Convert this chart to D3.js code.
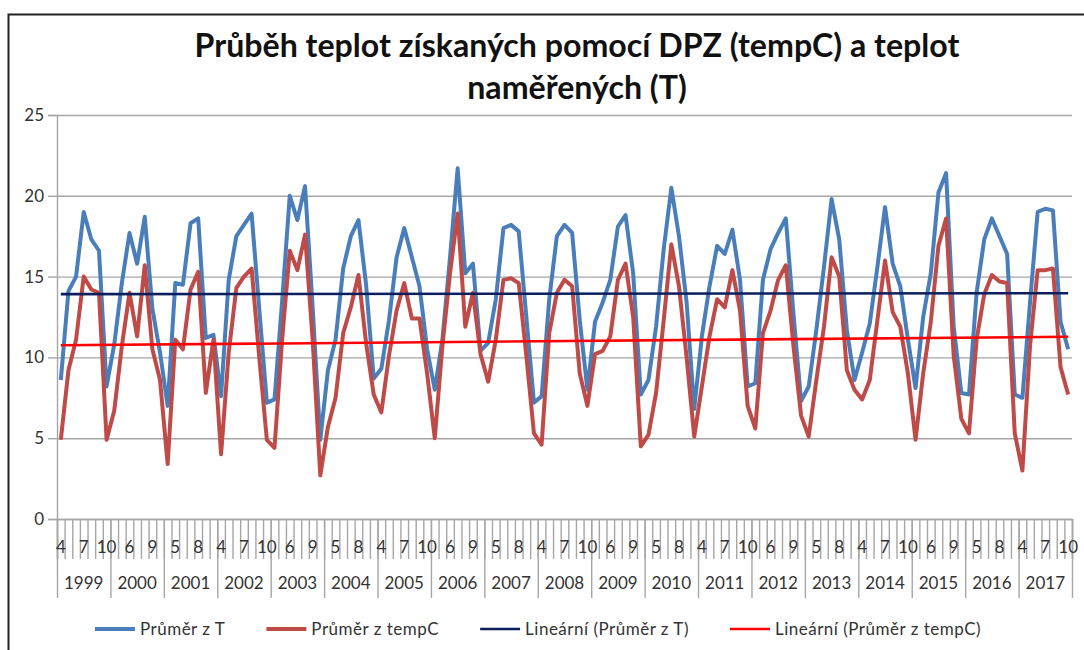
<!DOCTYPE html>
<html>
<head>
<meta charset="utf-8">
<script src="https://cdn.jsdelivr.net/npm/d3@7"></script>
<style>
  body { margin: 0; background: #fff; }
  text { font-family: Lato, "Open Sans", sans-serif; fill: #333; }
</style>
</head>
<body>
<div id="chart-area"></div>
<script>
// values (months 4..10 of each year)
const years = d3.range(1999, 2018)
const months = [4, 5, 6, 7, 8, 9, 10]

const prumerT = [
  8.6, 14.1, 15.0, 19.0, 17.3, 16.6, 8.2,
  10.8, 14.6, 17.7, 15.8, 18.7, 13.0, 10.3,
  7.0, 14.6, 14.5, 18.3, 18.6, 11.2, 11.4,
  7.6, 14.8, 17.5, 18.2, 18.9, 13.0, 7.2,
  7.4, 13.5, 20.0, 18.5, 20.6, 13.1, 4.9,
  9.2, 11.1, 15.5, 17.5, 18.5, 14.5, 8.7,
  9.3, 12.3, 16.2, 18.0, 16.2, 14.4, 10.5,
  8.0, 11.1, 16.2, 21.7, 15.2, 15.8, 10.4,
  10.9, 13.6, 18.0, 18.2, 17.8, 12.5, 7.2,
  7.6, 13.6, 17.5, 18.2, 17.7, 12.3, 8.0,
  12.2, 13.4, 14.8, 18.1, 18.8, 15.2, 7.7,
  8.6, 11.9, 16.7, 20.5, 17.5, 13.4, 6.8,
  11.3, 14.4, 16.9, 16.4, 17.9, 14.8, 8.2,
  8.4, 14.8, 16.7, 17.7, 18.6, 12.7, 7.3,
  8.2, 11.7, 15.6, 19.8, 17.3, 11.7, 8.6,
  10.3, 12.1, 15.6, 19.3, 15.8, 14.4, 11.1,
  8.1, 12.5, 15.2, 20.2, 21.4, 11.9, 7.8,
  7.7, 14.0, 17.3, 18.6, 17.5, 16.4, 7.7,
  7.5, 13.4, 19.0, 19.2, 19.1, 12.2, 10.5
]

const prumerTempC = [
  4.9, 9.2, 11.1, 15.0, 14.2, 14.0, 4.9,
  6.7, 10.7, 14.0, 11.3, 15.7, 10.5, 8.6,
  3.4, 11.1, 10.5, 14.2, 15.3, 7.8, 11.1,
  4.0, 10.3, 14.3, 15.0, 15.5, 10.0, 4.9,
  4.4, 11.1, 16.6, 15.4, 17.6, 11.1, 2.7,
  5.7, 7.5, 11.5, 13.1, 15.1, 10.9, 7.7,
  6.6, 10.1, 12.9, 14.6, 12.4, 12.4, 9.0,
  5.0, 10.7, 15.2, 18.9, 11.9, 14.0, 10.2,
  8.5, 11.1, 14.8, 14.9, 14.6, 10.1, 5.3,
  4.6, 11.5, 14.0, 14.8, 14.4, 9.0, 7.0,
  10.2, 10.4, 11.3, 14.8, 15.8, 12.5, 4.5,
  5.2, 7.8, 12.3, 17.0, 14.4, 10.0, 5.1,
  8.2, 11.3, 13.6, 13.1, 15.4, 12.9, 7.0,
  5.6, 11.5, 12.9, 14.8, 15.7, 10.7, 6.4,
  5.1, 8.6, 11.9, 16.2, 15.0, 9.2, 8.0,
  7.4, 8.6, 12.3, 16.0, 12.8, 11.9, 9.0,
  4.9, 9.0, 12.2, 16.9, 18.6, 10.1, 6.2,
  5.3, 11.1, 13.9, 15.1, 14.7, 14.6, 5.3,
  3.0, 10.7, 15.4, 15.4, 15.5, 9.4, 7.7
]

const yTicks = [0, 5, 10, 15, 20, 25]
const title = ['Průběh teplot získaných pomocí DPZ (tempC) a teplot', 'naměřených (T)']
const legendLabels = ['Průměr z T', 'Průměr z tempC', 'Lineární (Průměr z T)', 'Lineární (Průměr z tempC)']

const categories = []
years.forEach(y => months.forEach(m => categories.push({year: y, month: m})))

const W = 1084
const H = 650
const margin = {top: 115, right: 12, bottom: 131, left: 57}
const width = W - margin.left - margin.right
const height = H - margin.top - margin.bottom

const svg = d3.select('#chart-area').append('svg')
  .attr('width', W)
  .attr('height', H)

svg.append('rect')
  .attr('x', 8.5).attr('y', 14.5)
  .attr('width', W + 20).attr('height', H + 20)
  .attr('fill', '#fff')
  .attr('stroke', '#222')
  .attr('stroke-width', 2)

const g = svg.append('g')
  .attr('transform', `translate(${margin.left},${margin.top})`)

const x = d3.scaleBand()
  .domain(d3.range(categories.length))
  .range([0, width])
const xb = d3.scaleLinear()
  .domain([0, categories.length])
  .range([0, width])
const y = d3.scaleLinear()
  .domain([0, 25])
  .range([height, 0])
const cx = i => x(i) + x.bandwidth() / 2

// gridlines
g.append('g')
  .attr('class', 'grid')
  .call(d3.axisLeft(y).tickValues(yTicks).tickSize(-width).tickFormat(''))
  .call(s => s.select('.domain').remove())
  .selectAll('line')
    .attr('stroke', '#a6a6a6')
    .attr('stroke-width', 1.4)

// y axis
g.append('g')
  .attr('class', 'y-axis')
  .call(d3.axisLeft(y).tickValues(yTicks).tickSize(9).tickPadding(4))
  .call(s => s.select('.domain').attr('stroke', '#a6a6a6').attr('stroke-width', 1.4))
  .call(s => s.selectAll('line').attr('stroke', '#a6a6a6').attr('stroke-width', 1.4))
  .call(s => s.selectAll('text').attr('font-size', 17).attr('fill', '#333'))

// x axis: category boundaries, year separators, labels
g.append('g')
  .attr('transform', `translate(0,${height})`)
  .call(d3.axisBottom(xb).tickValues(d3.range(0, categories.length + 1)).tickSize(40).tickFormat(''))
  .call(s => s.select('.domain').attr('stroke', '#a6a6a6').attr('stroke-width', 1.4))
  .call(s => s.selectAll('line').attr('stroke', '#a6a6a6').attr('stroke-width', 1.4))

g.append('g')
  .attr('transform', `translate(0,${height})`)
  .call(d3.axisBottom(xb).tickValues(d3.range(0, categories.length + 1, months.length)).tickSize(79).tickFormat(''))
  .call(s => s.select('.domain').remove())
  .call(s => s.selectAll('line').attr('stroke', '#a6a6a6').attr('stroke-width', 1.4))

g.append('g')
  .selectAll('text')
  .data(categories.map((c, i) => ({...c, i})).filter(d => d.i % 3 === 0))
  .enter().append('text')
    .attr('x', d => cx(d.i))
    .attr('y', height + 34)
    .attr('text-anchor', 'middle')
    .attr('font-size', 17)
    .text(d => d.month)

g.append('g')
  .selectAll('text')
  .data(years)
  .enter().append('text')
    .attr('x', (d, k) => xb(k * months.length + months.length / 2))
    .attr('y', height + 70)
    .attr('text-anchor', 'middle')
    .attr('font-size', 17)
    .text(d => d)

// linear trend (least squares over category index)
const trend = vals => {
  const n = vals.length
  const xs = d3.range(1, n + 1)
  const mx = d3.mean(xs)
  const my = d3.mean(vals)
  const b = d3.sum(xs, (v, k) => (v - mx) * (vals[k] - my)) / d3.sum(xs, v => (v - mx) ** 2)
  const a = my - b * mx
  return xs.map(v => a + b * v)
}

const line = d3.line()
  .x((d, i) => cx(i))
  .y(d => y(d))

const series = [
  {values: prumerT, color: '#4a7ebb', w: 4},
  {values: prumerTempC, color: '#be4b48', w: 4},
  {values: trend(prumerT), color: '#0b1f5e', w: 2.6, trendline: true},
  {values: trend(prumerTempC), color: '#ff0000', w: 2.6, trendline: true}
]

g.append('g')
  .selectAll('path')
  .data(series)
  .enter().append('path')
    .attr('fill', 'none')
    .attr('stroke', d => d.color)
    .attr('stroke-width', d => d.w)
    .attr('stroke-linejoin', 'round')
    .attr('d', d => d.trendline
      ? line.x((v, i) => i === 0 ? cx(0) : cx(d.values.length - 1))([d.values[0], d.values[d.values.length - 1]])
      : line.x((v, i) => cx(i))(d.values))

// title
const titleText = svg.append('g')
  .selectAll('text')
  .data(title)
  .enter().append('text')
    .attr('x', 577)
    .attr('y', (d, i) => 57 + i * 42)
    .attr('text-anchor', 'middle')
    .attr('font-size', 30)
    .attr('font-weight', 'bold')
    .style('fill', '#111')
    .text(d => d)
const tw = titleText.node().getComputedTextLength()
titleText.attr('font-size', 30 * 765 / tw)

// legend
const gap = 41
const legend = svg.append('g')
  .attr('transform', 'translate(0,629)')
const items = legend.selectAll('g')
  .data(legendLabels)
  .enter().append('g')
items.append('line')
  .attr('x1', 0).attr('x2', 40)
  .attr('stroke', (d, i) => series[i].color)
  .attr('stroke-width', (d, i) => series[i].w)
items.append('text')
  .attr('x', 45)
  .attr('dy', '0.35em')
  .attr('font-size', 17)
  .attr('letter-spacing', 0.5)
  .text(d => d)
let pos = 0
const offsets = []
items.each(function () {
  offsets.push(pos)
  pos += 45 + this.querySelector('text').getComputedTextLength() + gap
})
const total = pos - gap
const start = 538 - total / 2
items.attr('transform', (d, i) => `translate(${start + offsets[i]},0)`)
</script>
</body>
</html>
